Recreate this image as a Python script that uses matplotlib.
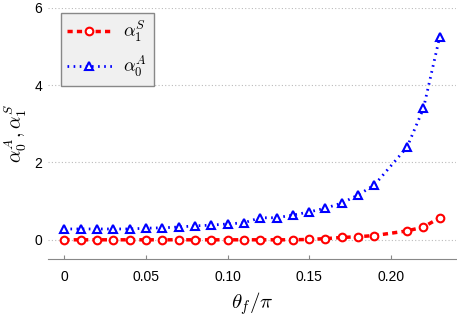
import matplotlib
matplotlib.use("Agg")
import matplotlib.pyplot as plt

plt.rcParams['font.family'] = ['Liberation Sans', 'DejaVu Sans']
plt.rcParams['mathtext.fontset'] = 'cm'

theta = [0.00, 0.01, 0.02, 0.03, 0.04, 0.05, 0.06, 0.07, 0.08, 0.09, 0.10,
         0.11, 0.12, 0.13, 0.14, 0.15, 0.16, 0.17, 0.18, 0.19, 0.21, 0.22, 0.23]
alpha1S = [0.0, 0.0, 0.0, 0.0, 0.0, 0.0, 0.0, 0.0, 0.0, 0.0, 0.0,
           0.0, 0.0, 0.0, 0.0, 0.01, 0.03, 0.06, 0.08, 0.11, 0.23, 0.33, 0.57]
alpha0A = [0.28, 0.28, 0.28, 0.28, 0.28, 0.30, 0.31, 0.33, 0.36, 0.38, 0.41,
           0.44, 0.57, 0.57, 0.64, 0.72, 0.82, 0.95, 1.16, 1.42, 2.40, 3.40, 5.26]
xticks = [0, 0.05, 0.10, 0.15, 0.20]
xticklabels = ['0', '0.05', '0.10', '0.15', '0.20']
yticks = [0, 2, 4, 6]

fig = plt.figure(figsize=(4.57, 3.16), dpi=100)
ax = fig.add_axes([0.105, 0.18, 0.893, 0.795])

ax.plot(theta, alpha1S, color='red', linestyle=(0, (1.5, 1.2)), linewidth=2.5,
        marker='o', markersize=5.5, markerfacecolor='white', markeredgewidth=1.5,
        label=r'$\alpha_1^S$', clip_on=False, zorder=3)
ax.plot(theta, alpha0A, color='blue', linestyle=(0, (0.6, 1.6)), linewidth=2.0,
        marker='^', markersize=6, markerfacecolor='white', markeredgewidth=1.5,
        label=r'$\alpha_0^A$', clip_on=False, zorder=3)

ax.set_xlim(-0.01, 0.24)
ax.set_ylim(-0.5, 6)
ax.set_xticks(xticks)
ax.set_xticklabels(xticklabels)
ax.set_yticks(yticks)
ax.yaxis.grid(True, linestyle=(0, (1, 2)), color='#bbbbbb', linewidth=0.8)
for s in ['top', 'right', 'left']:
    ax.spines[s].set_visible(False)
ax.spines['bottom'].set_color('#888888')
ax.tick_params(axis='x', direction='in', length=3, color='#888888', labelsize=10, pad=8)
ax.tick_params(axis='y', length=0, labelsize=10, pad=4)

ax.set_xlabel(r'$\theta_f/\pi$', fontsize=15)
ax.set_ylabel(r'$\alpha_0^A,\alpha_1^S$', fontsize=14, labelpad=4)

leg = ax.legend(loc='upper left', bbox_to_anchor=(0.032, 0.978), borderaxespad=0,
                fontsize=13, handlelength=2.45, handletextpad=0.65, labelspacing=0.55,
                borderpad=0.35, fancybox=False, framealpha=1, edgecolor='#888888')
leg.get_frame().set_facecolor('#f0f0f0')

fig.savefig('out.png', dpi=100)
